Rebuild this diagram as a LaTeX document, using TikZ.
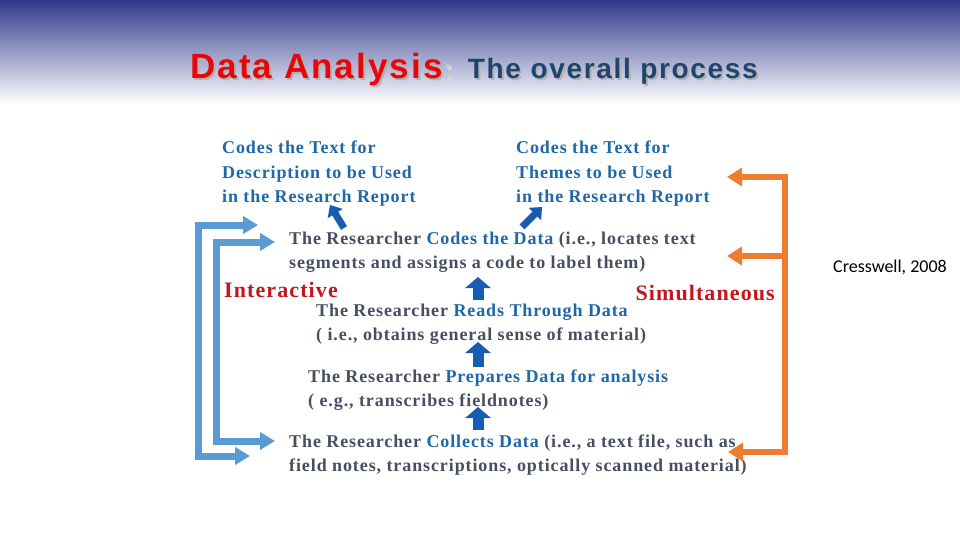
\documentclass[tikz,border=0pt]{standalone}
\usepackage{fontspec}
\setmainfont{Liberation Serif}
\newfontfamily\bodyfont[LetterSpace=5]{Liberation Serif}
\newfontfamily\headfont[LetterSpace=6]{Liberation Sans}
\newfontfamily\notefont{Carlito}
\usetikzlibrary{arrows.meta,positioning,calc}

\definecolor{hdrtop}{RGB}{48,56,140}
\definecolor{hdrmid}{RGB}{188,188,220}
\definecolor{titred}{RGB}{232,6,10}
\definecolor{titblue}{RGB}{32,68,112}
\definecolor{stepblue}{RGB}{30,104,168}
\definecolor{stepgray}{RGB}{70,78,96}
\definecolor{labred}{RGB}{196,22,28}
\definecolor{loopblue}{RGB}{91,155,213}
\definecolor{looporange}{RGB}{237,125,49}
\definecolor{upblue}{RGB}{22,92,178}

\newcommand{\hlstep}[1]{\textcolor{stepblue}{#1}}
\newcommand{\slidetitle}[3]{{\color{#1}Data Analysis}{\fontsize{28}{32}\selectfont\color{#2}:} {\fontsize{28}{32}\selectfont\color{#3}The overall process}}

\begin{document}
\begin{tikzpicture}[x=1pt,y=-1pt,
txt/.style={anchor=base west,align=left,inner sep=0pt,text=stepgray,font=\bodyfont\bfseries\fontsize{18}{24}\selectfont},
codetxt/.style={txt,text=stepblue},
modelab/.style={inner sep=0pt,text=labred,font=\bodyfont\bfseries\fontsize{22}{26}\selectfont},
titletxt/.style={anchor=base west,inner sep=0pt,font=\headfont\bfseries\fontsize{35}{40}\selectfont},
uparr/.style={line width=11pt,draw=upblue,-{Triangle[width=25pt,length=11pt]}},
diagarr/.style={line width=7pt,draw=upblue,-{Triangle[width=17pt,length=10pt]}},
bluebrk/.style={line width=7pt,draw=loopblue,line join=miter,{Triangle[width=17pt,length=15pt]}-{Triangle[width=17pt,length=15pt]}},
orgbrk/.style={line width=6.5pt,draw=looporange,line join=miter,{Triangle[width=18pt,length=15pt]}-{Triangle[width=18pt,length=15pt]}},
orgarm/.style={line width=6.5pt,draw=looporange,-{Triangle[width=18pt,length=15pt]}}]
\useasboundingbox (0,0) rectangle (960,540);
\fill[white] (0,0) rectangle (960,540);
\shade[top color=hdrtop,middle color=hdrmid,bottom color=white] (0,0) rectangle (960,104);

% title
\node[titletxt] (shadow) at (192,81) {\slidetitle{black!30}{black!15}{black!30}};
\node[titletxt] (title) at (190,79) {\slidetitle{titred}{black!22}{titblue}};

% steps (base = last line)
\node[codetxt] (desc) at (222,202) {Codes the Text for\\Description to be Used\\in the Research Report};
\node[codetxt] (themes) at (516,202) {Codes the Text for\\Themes to be Used\\in the Research Report};
\node[txt] (codes) at (289,268) {The Researcher \hlstep{Codes the Data} (i.e., locates text\\segments and assigns a code to label them)};
\node[txt] (reads) at (316,340) {The Researcher \hlstep{Reads Through Data}\\( i.e., obtains general sense of material)};
\node[txt] (prep) at (308,406) {The Researcher \hlstep{Prepares Data for analysis}\\( e.g., transcribes fieldnotes)};
\node[txt] (collect) at (289,471) {The Researcher \hlstep{Collects Data} (i.e., a text file, such as\\field notes, transcriptions, optically scanned material)};

\node[modelab,anchor=base west] (inter) at (224,297) {Interactive};
\node[modelab,anchor=base east] (simul) at (775,300) {Simultaneous};
\node[anchor=base west,inner sep=0pt,font=\notefont\fontsize{18}{22}\selectfont] (cite) at (833,272) {Cresswell, 2008};

% upward arrows
\draw[uparr] ($(collect.base west)+(189,-41)$) -- ($(prep.base west)+(170,1)$);
\draw[uparr] ($(prep.base west)+(170,-39)$) -- ($(reads.base west)+(162,2)$);
\draw[uparr] ($(reads.base west)+(162,-40)$) -- ($(codes.base west)+(189,9)$);
\draw[diagarr] ($(codes.base west)+(55,-40)$) -- ($(desc.base west)+(108,3)$);
\draw[diagarr] ($(codes.base west)+(233,-41)$) -- ($(themes.base west)+(26,5)$);

% interactive loops
\draw[bluebrk] ($(codes.base west)+(-31,-43)$) -- ++(-60,0) |- ($(collect.base west)+(-39,-15)$);
\draw[bluebrk] ($(codes.base west)+(-14,-26)$) -- ++(-59,0) |- ($(collect.base west)+(-14,-30)$);

% simultaneous loop
\coordinate (otop) at ($(themes.base west)+(211,-25)$);
\coordinate (omid) at ($(codes.base west)+(438,-12)$);
\coordinate (obot) at ($(collect.base west)+(439,-19)$);
\coordinate (oline) at ($(otop)+(58,0)$);
\draw[orgbrk] (otop) -- (oline) |- (obot);
\draw[orgarm] (omid -| oline) -- (omid);
\end{tikzpicture}
\end{document}
